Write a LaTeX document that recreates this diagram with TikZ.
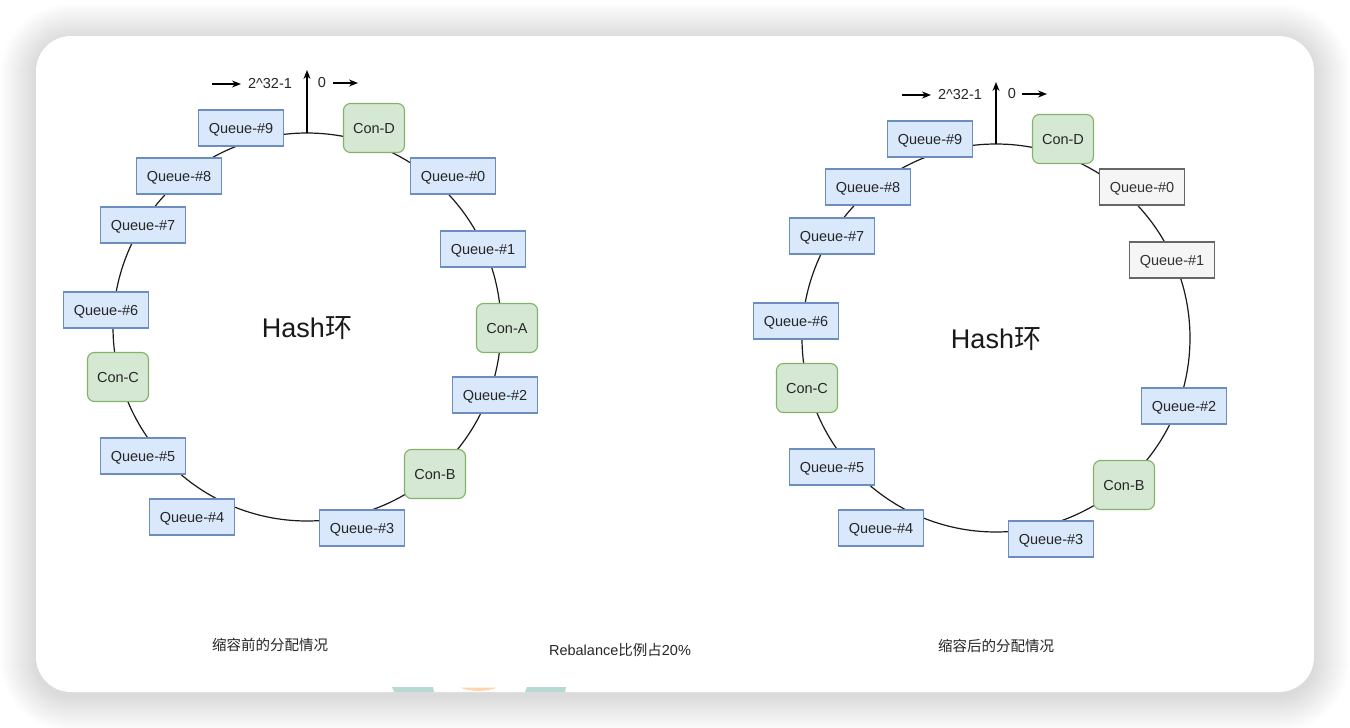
\documentclass[tikz,border=0pt]{standalone}
\usepackage{fontspec}
\setmainfont{Liberation Sans}
\newfontfamily\cjk{Noto Sans CJK SC}
\usetikzlibrary{arrows.meta}
\definecolor{qfill}{HTML}{DAE8FC}
\definecolor{qline}{HTML}{6C8EBF}
\definecolor{cfill}{HTML}{D5E8D4}
\definecolor{cline}{HTML}{82B366}
\definecolor{gfill}{HTML}{F5F5F5}
\definecolor{gline}{HTML}{666666}
\definecolor{gtext}{HTML}{333333}
\definecolor{teal1}{HTML}{B7D9D1}
\definecolor{orng1}{HTML}{FDD5B0}
\tikzset{
  qbox/.style={draw=qline, fill=qfill, line width=1.1pt, minimum width=85pt, minimum height=36pt, inner sep=0pt, text height=10.4pt, text depth=0pt, font=\fontsize{14.5}{16}\selectfont, text=black!85},
  gbox/.style={qbox, draw=gline, fill=gfill, text=gtext},
  cbox/.style={draw=cline, fill=cfill, line width=1.1pt, minimum width=61pt, minimum height=49pt, rounded corners=7pt, inner sep=0pt, text height=10.4pt, text depth=0pt, font=\fontsize{14.5}{16}\selectfont, text=black!85},
  ring/.style={draw=black!90, circle, minimum size=388pt, line width=1.2pt, inner sep=0pt, outer sep=0pt},
  lbl/.style={font=\fontsize{14.5}{16}\selectfont, text=black!85, inner sep=0pt},
  big/.style={font=\fontsize{27}{30}\selectfont, text=black!90, inner sep=0pt},
  arr/.style={-{Stealth[length=9pt,width=7pt]}, line width=1.3pt, black}
}
\begin{document}
\begin{tikzpicture}[x=1pt,y=-1pt]
\useasboundingbox (0,0) rectangle (1350,728);
\fill[white] (0,0) rectangle (1350,728);
% shadow
\foreach \i [evaluate=\i as \r using 35+\i] in {1,...,36}
  \fill[black, opacity=0.004, rounded corners=\r pt] ({36-\i},{36-\i+3}) rectangle ({1314+\i},{692+\i+4});
% card
\fill[white, rounded corners=35pt] (36,36) rectangle (1314,692);
% clipped logo bits at bottom edge
\fill[teal1] (392,687) -- (433,687) -- (434,692) -- (394,692) -- cycle;
\fill[orng1] (460,687.5) .. controls (470,692) and (487,692) .. (497,687.5) -- cycle;
\fill[teal1] (527,687) -- (566,687) -- (565,692) -- (525,692) -- cycle;

% ===== left ring =====
\node[ring] (ringL) at (307,327) {};
\node[big] (hashL) at (307,328) {Hash{\cjk 环}};
\coordinate (upL) at (307,70);
\draw[arr] (ringL.north) -- (upL);
\coordinate (a1sL) at (212,84);
\coordinate (a1eL) at (241,84);
\draw[arr] (a1sL) -- (a1eL);
\node[lbl] (maxL) at (270,84) {2\string^32-1};
\node[lbl] (zeroL) at (322,83) {0};
\coordinate (a2sL) at (333,83);
\coordinate (a2eL) at (358,83);
\draw[arr] (a2sL) -- (a2eL);

\node[qbox] (q9L) at (241,128) {Queue-\#9};
\node[cbox] (cdL) at (374,128) {Con-D};
\node[qbox] (q0L) at (453,176) {Queue-\#0};
\node[qbox] (q1L) at (483,249) {Queue-\#1};
\node[cbox] (caL) at (507,328) {Con-A};
\node[qbox] (q2L) at (495,395) {Queue-\#2};
\node[cbox] (cbL) at (435,474) {Con-B};
\node[qbox] (q3L) at (362,528) {Queue-\#3};
\node[qbox] (q4L) at (192,517) {Queue-\#4};
\node[qbox] (q5L) at (143,456) {Queue-\#5};
\node[cbox] (ccL) at (118,377) {Con-C};
\node[qbox] (q6L) at (106,310) {Queue-\#6};
\node[qbox] (q7L) at (143,225) {Queue-\#7};
\node[qbox] (q8L) at (179,176) {Queue-\#8};

% ===== right ring =====
\node[ring] (ringR) at (996,338) {};
\node[big] (hashR) at (996,339) {Hash{\cjk 环}};
\coordinate (upR) at (996,82);
\draw[arr] (ringR.north) -- (upR);
\coordinate (a1sR) at (902,95);
\coordinate (a1eR) at (931,95);
\draw[arr] (a1sR) -- (a1eR);
\node[lbl] (maxR) at (960,95) {2\string^32-1};
\node[lbl] (zeroR) at (1012,94) {0};
\coordinate (a2sR) at (1022,94);
\coordinate (a2eR) at (1047,94);
\draw[arr] (a2sR) -- (a2eR);

\node[qbox] (q9R) at (930,139) {Queue-\#9};
\node[cbox] (cdR) at (1063,139) {Con-D};
\node[gbox] (q0R) at (1142,187) {Queue-\#0};
\node[gbox] (q1R) at (1172,260) {Queue-\#1};
\node[qbox] (q2R) at (1184,406) {Queue-\#2};
\node[cbox] (cbR) at (1124,485) {Con-B};
\node[qbox] (q3R) at (1051,539) {Queue-\#3};
\node[qbox] (q4R) at (881,528) {Queue-\#4};
\node[qbox] (q5R) at (832,467) {Queue-\#5};
\node[cbox] (ccR) at (807,388) {Con-C};
\node[qbox] (q6R) at (796,321) {Queue-\#6};
\node[qbox] (q7R) at (832,236) {Queue-\#7};
\node[qbox] (q8R) at (868,187) {Queue-\#8};

% ===== captions =====
\node[lbl] (capL) at (270,645) {\cjk 缩容前的分配情况};
\node[lbl] (capM) at (620,650) {Rebalance{\cjk 比例占}20\%};
\node[lbl] (capR) at (996,646) {\cjk 缩容后的分配情况};
\end{tikzpicture}
\end{document}
